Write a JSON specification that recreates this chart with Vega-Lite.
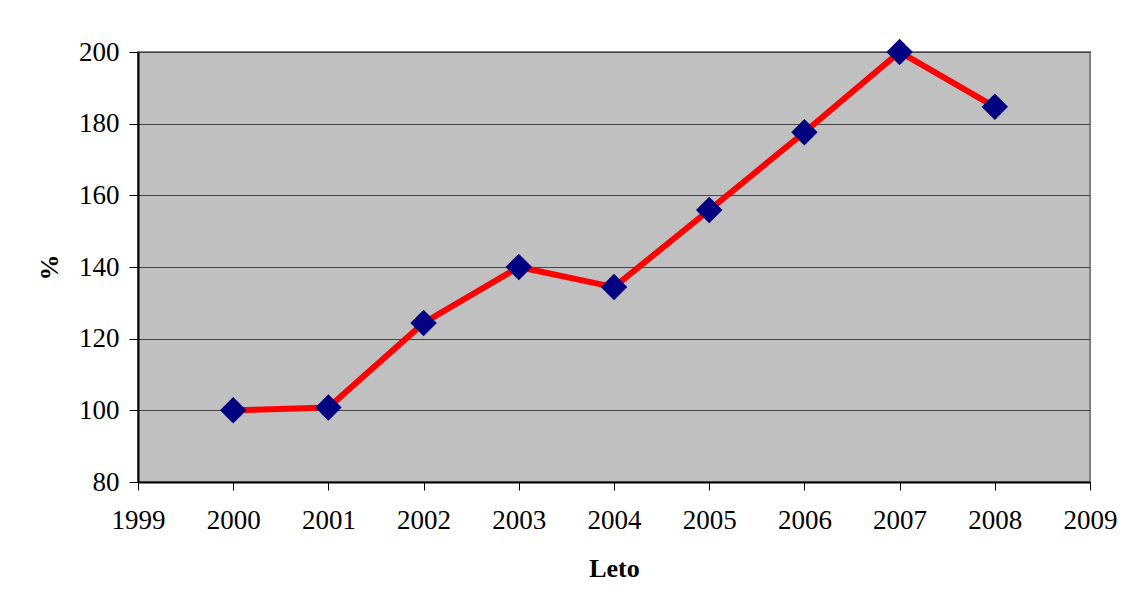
{
  "$schema": "https://vega.github.io/schema/vega-lite/v6.json",
  "width": 952,
  "height": 430,
  "autosize": {"type": "none"},
  "padding": {"left": 138, "top": 52, "right": 40, "bottom": 124},
  "background": "white",
  "config": {
    "font": "Liberation Serif",
    "view": {"fill": "#C0C0C0", "stroke": "#808080", "strokeWidth": 2}
  },
  "data": {
    "values": [
      {"Leto": 2000, "value": 100},
      {"Leto": 2001, "value": 100.8},
      {"Leto": 2002, "value": 124.4},
      {"Leto": 2003, "value": 140},
      {"Leto": 2004, "value": 134.4},
      {"Leto": 2005, "value": 155.9},
      {"Leto": 2006, "value": 177.6},
      {"Leto": 2007, "value": 200},
      {"Leto": 2008, "value": 184.7}
    ]
  },
  "encoding": {
    "x": {
      "field": "Leto",
      "type": "quantitative",
      "scale": {"domain": [1999, 2009], "nice": false, "zero": false},
      "axis": {
        "title": "Leto",
        "titleFont": "Liberation Serif",
        "titleFontSize": 26,
        "titleFontWeight": "bold",
        "titleColor": "black",
        "titlePadding": 22,
        "values": [1999, 2000, 2001, 2002, 2003, 2004, 2005, 2006, 2007, 2008, 2009],
        "format": "d",
        "labelFontSize": 27,
        "labelColor": "black",
        "labelPadding": 17,
        "labelFlush": false,
        "labelOverlap": false,
        "tickSize": 8,
        "tickColor": "black",
        "domainColor": "black",
        "domainWidth": 2,
        "grid": false
      }
    },
    "y": {
      "field": "value",
      "type": "quantitative",
      "scale": {"domain": [80, 200], "nice": false, "zero": false},
      "axis": {
        "title": "%",
        "titleFont": "Liberation Serif",
        "titleFontSize": 26,
        "titleFontWeight": "bold",
        "titleColor": "black",
        "titlePadding": 16,
        "values": [80, 100, 120, 140, 160, 180, 200],
        "labelFontSize": 27,
        "labelColor": "black",
        "labelPadding": 10,
        "labelFlush": false,
        "tickSize": 9,
        "tickColor": "black",
        "domainColor": "black",
        "domainWidth": 2,
        "grid": true,
        "gridColor": "#444444",
        "gridWidth": 1
      }
    }
  },
  "layer": [
    {
      "mark": {"type": "line", "color": "#FF0000", "strokeWidth": 6}
    },
    {
      "mark": {"type": "point", "shape": "diamond", "filled": true, "color": "#000080", "opacity": 1, "size": 700}
    }
  ]
}
